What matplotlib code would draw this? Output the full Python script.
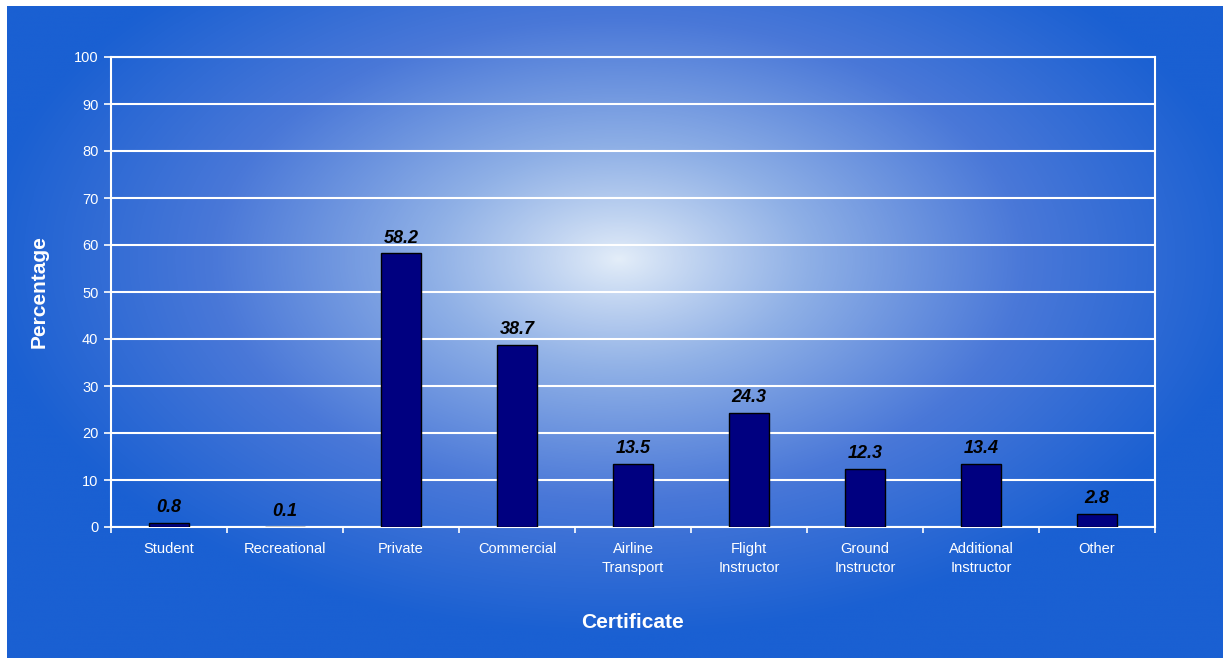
import numpy as np
import matplotlib
matplotlib.use("Agg")
import matplotlib.pyplot as plt
from matplotlib.colors import LinearSegmentedColormap

plt.rcParams['font.family'] = ['Liberation Sans', 'DejaVu Sans']

# certificate shares (%)
certificates = ["Student", "Recreational", "Private", "Commercial", "Airline\nTransport",
                "Flight\nInstructor", "Ground\nInstructor", "Additional\nInstructor", "Other"]
percentages = [0.8, 0.1, 58.2, 38.7, 13.5, 24.3, 12.3, 13.4, 2.8]
value_labels = ["0.8", "0.1", "58.2", "38.7", "13.5", "24.3", "12.3", "13.4", "2.8"]

W, H = 1223, 658
fig = plt.figure(figsize=(W / 100, H / 100), dpi=100)
fig.patch.set_facecolor("white")

# blue panel with a soft radial highlight behind the plot
bg = fig.add_axes([7 / W, 0, 1 - 7 / W, 1 - 6 / H])
yy, xx = np.mgrid[0:H, 0:W]
d = np.sqrt(((xx - 615) / 640.0) ** 2 + ((yy - 255) / 380.0) ** 2)
t = np.clip(d, 0, 1) ** 0.9
cmap = LinearSegmentedColormap.from_list("panel", ["#e4eef9", "#8fb0e6", "#4a78d8", "#1a60d2"], N=256)
bg.imshow(t, cmap=cmap, aspect="auto", vmin=0, vmax=1, interpolation="bilinear")
bg.set_axis_off()

ax = fig.add_axes([111 / W, 1 - 527 / H, (1155 - 111) / W, (527 - 57) / H])
ax.patch.set_alpha(0)

x = np.arange(len(certificates))
ax.bar(x, percentages, width=0.35, color="#000080", edgecolor="black", linewidth=1, zorder=3)

for xi, v, lab in zip(x, percentages, value_labels):
    ax.annotate(lab, (xi, v), xytext=(0, 5), textcoords="offset points",
                ha="center", va="bottom", fontsize=13, fontweight="bold",
                fontstyle="italic", color="black", zorder=4)

ax.set_xlim(-0.5, len(certificates) - 0.5)
ax.set_ylim(0, 100)
ax.set_yticks(np.arange(0, 101, 10))
ax.yaxis.grid(True, color="white", linewidth=1.5, zorder=1)
ax.set_axisbelow(True)

ax.set_xticks(x)
ax.set_xticklabels(certificates, fontsize=10.5, color="white", linespacing=1.45)
ax.set_xticks(np.arange(-0.5, len(certificates), 1), minor=True)
ax.tick_params(axis="x", which="major", length=0, pad=11)
ax.tick_params(axis="x", which="minor", length=4, color="white", width=1.2)
ax.tick_params(axis="y", length=5, color="white", width=1.2, labelsize=10.5,
               labelcolor="white", pad=4)

for side in ["left", "bottom", "top", "right"]:
    ax.spines[side].set_color("white")
    ax.spines[side].set_linewidth(1.5)

ax.set_ylabel("Percentage", fontsize=15, fontweight="bold", color="white", labelpad=18)
ax.set_xlabel("Certificate", fontsize=15, fontweight="bold", color="white", labelpad=27)

fig.savefig("out.png", dpi=100, facecolor=fig.get_facecolor())
